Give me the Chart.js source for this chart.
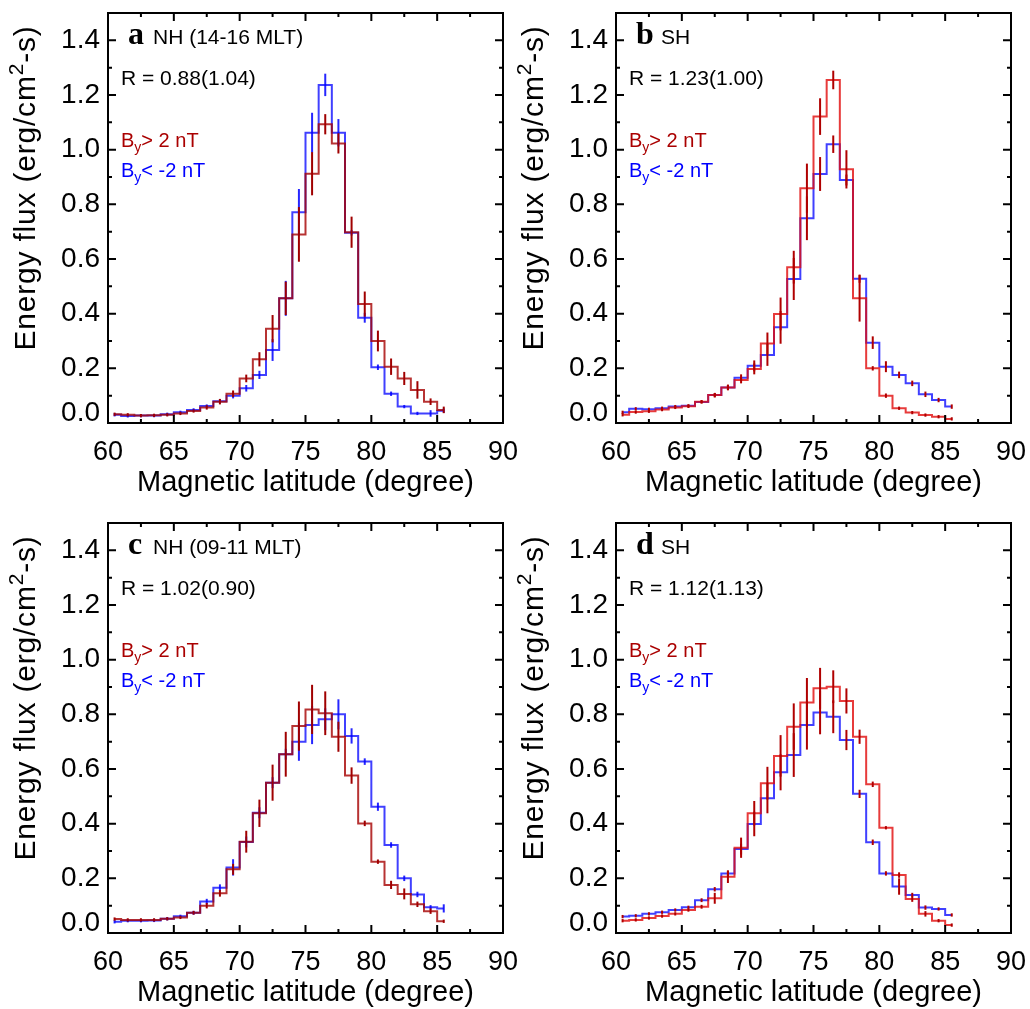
<!DOCTYPE html>
<html>
<head>
<meta charset="utf-8">
<script src="https://cdn.jsdelivr.net/npm/chart.js@4.4.1/dist/chart.umd.min.js"></script>
<style>
html, body { margin: 0; padding: 0; background: #fff; overflow: hidden; width: 1030px; height: 1009px; }
canvas { position: absolute; }
</style>
</head>
<body>
<canvas id="panelA" width="530" height="505" style="left:0;top:0"></canvas>
<canvas id="panelB" width="530" height="505" style="left:508px;top:0"></canvas>
<canvas id="panelC" width="530" height="505" style="left:0;top:510px"></canvas>
<canvas id="panelD" width="530" height="505" style="left:508px;top:510px"></canvas>
<script>
// bin centres (degrees magnetic latitude)
var lat = [60.5, 61.5, 62.5, 63.5, 64.5, 65.5, 66.5, 67.5, 68.5, 69.5, 70.5, 71.5, 72.5,
           73.5, 74.5, 75.5, 76.5, 77.5, 78.5, 79.5, 80.5, 81.5, 82.5, 83.5, 84.5, 85.5];

// a: NH 14-16 MLT
var fluxA_pos = [0.032, 0.03, 0.027, 0.028, 0.03, 0.035, 0.044, 0.057, 0.078, 0.107, 0.163, 0.233, 0.345,
                 0.456, 0.69, 0.912, 1.093, 1.023, 0.698, 0.435, 0.30, 0.206, 0.163, 0.121, 0.078, 0.048];
var errA_pos  = [0.005, 0.004, 0.004, 0.004, 0.004, 0.005, 0.006, 0.008, 0.01, 0.012, 0.014, 0.026, 0.05,
                 0.061, 0.1, 0.079, 0.037, 0.037, 0.057, 0.046, 0.038, 0.03, 0.024, 0.032, 0.012, 0.012];
var fluxA_neg = [0.03, 0.026, 0.027, 0.027, 0.032, 0.039, 0.048, 0.062, 0.08, 0.1, 0.127, 0.176, 0.267,
                 0.456, 0.771, 1.062, 1.237, 1.062, 0.696, 0.385, 0.204, 0.107, 0.06, 0.035, 0.035, 0.045];
var errA_neg  = [0.004, 0.004, 0.004, 0.004, 0.004, 0.005, 0.005, 0.006, 0.008, 0.01, 0.012, 0.015, 0.04,
                 0.064, 0.085, 0.073, 0.041, 0.05, 0.01, 0.018, 0.01, 0.008, 0.006, 0.005, 0.012, 0.008];

// b: SH
var fluxB_pos = [0.03, 0.04, 0.043, 0.049, 0.057, 0.061, 0.078, 0.102, 0.13, 0.157, 0.198, 0.291, 0.399,
                 0.57, 0.859, 1.121, 1.255, 0.928, 0.456, 0.2, 0.1, 0.054, 0.038, 0.029, 0.023, 0.015];
var errB_pos  = [0.004, 0.004, 0.004, 0.004, 0.005, 0.005, 0.006, 0.008, 0.01, 0.012, 0.02, 0.04, 0.06,
                 0.06, 0.09, 0.067, 0.034, 0.07, 0.085, 0.008, 0.008, 0.006, 0.005, 0.004, 0.004, 0.004];
var fluxB_neg = [0.039, 0.052, 0.05, 0.054, 0.06, 0.063, 0.077, 0.102, 0.13, 0.166, 0.209, 0.249, 0.35,
                 0.527, 0.749, 0.911, 1.02, 0.889, 0.528, 0.294, 0.206, 0.176, 0.145, 0.105, 0.084, 0.06];
var errB_neg  = [0.004, 0.004, 0.004, 0.004, 0.005, 0.005, 0.006, 0.008, 0.01, 0.012, 0.02, 0.04, 0.06,
                 0.077, 0.08, 0.062, 0.032, 0.02, 0.015, 0.023, 0.02, 0.012, 0.01, 0.01, 0.008, 0.008];

// c: NH 09-11 MLT
var fluxC_pos = [0.051, 0.048, 0.048, 0.048, 0.052, 0.057, 0.074, 0.1, 0.145, 0.233, 0.334, 0.438, 0.55,
                 0.654, 0.757, 0.818, 0.804, 0.718, 0.576, 0.401, 0.261, 0.176, 0.143, 0.105, 0.08, 0.043];
var errC_pos  = [0.004, 0.004, 0.004, 0.004, 0.005, 0.006, 0.007, 0.01, 0.012, 0.02, 0.04, 0.05, 0.066,
                 0.082, 0.09, 0.09, 0.08, 0.055, 0.03, 0.01, 0.008, 0.015, 0.02, 0.01, 0.01, 0.005];
var fluxC_neg = [0.041, 0.045, 0.045, 0.046, 0.052, 0.061, 0.074, 0.115, 0.166, 0.24, 0.333, 0.44, 0.55,
                 0.654, 0.7, 0.761, 0.782, 0.8, 0.721, 0.627, 0.462, 0.322, 0.2, 0.141, 0.094, 0.09];
var errC_neg  = [0.004, 0.004, 0.004, 0.004, 0.005, 0.006, 0.007, 0.01, 0.012, 0.03, 0.02, 0.02, 0.02,
                 0.02, 0.07, 0.07, 0.04, 0.055, 0.028, 0.012, 0.015, 0.01, 0.01, 0.01, 0.008, 0.015];

// d: SH
var fluxD_pos = [0.045, 0.048, 0.055, 0.062, 0.07, 0.084, 0.096, 0.127, 0.206, 0.312, 0.438, 0.548, 0.648,
                 0.755, 0.843, 0.895, 0.901, 0.849, 0.718, 0.544, 0.385, 0.212, 0.124, 0.07, 0.045, 0.029];
var errD_pos  = [0.004, 0.004, 0.004, 0.005, 0.005, 0.006, 0.007, 0.02, 0.023, 0.037, 0.045, 0.06, 0.076,
                 0.085, 0.09, 0.075, 0.06, 0.046, 0.026, 0.01, 0.006, 0.01, 0.01, 0.01, 0.005, 0.005];
var fluxD_neg = [0.06, 0.063, 0.07, 0.076, 0.084, 0.094, 0.12, 0.16, 0.218, 0.307, 0.399, 0.493, 0.588,
                 0.651, 0.761, 0.807, 0.791, 0.706, 0.509, 0.332, 0.218, 0.17, 0.139, 0.093, 0.088, 0.066];
var errD_neg  = [0.004, 0.004, 0.004, 0.005, 0.005, 0.006, 0.007, 0.008, 0.01, 0.02, 0.045, 0.055, 0.066,
                 0.08, 0.09, 0.08, 0.06, 0.037, 0.015, 0.01, 0.008, 0.03, 0.008, 0.008, 0.006, 0.005];

var panelLetters = ['a', 'b', 'c', 'd'];
var panelNames = ['NH (14-16 MLT)', 'SH', 'NH (09-11 MLT)', 'SH'];
var ratioLabels = ['R = 0.88(1.04)', 'R = 1.23(1.00)', 'R = 1.02(0.90)', 'R = 1.12(1.13)'];

var sans = '"Liberation Sans", Arial, Helvetica, sans-serif';
Chart.defaults.font.family = sans;
Chart.defaults.color = '#000';

function pts(vals) {
    return vals.map(function(v, i) { return {x: lat[i], y: v}; });
}

// vertical error bars at each bin centre
var errorBars = {
    id: 'errorBars',
    afterDatasetsDraw: function(chart) {
        var ctx = chart.ctx, xs = chart.scales.x, ys = chart.scales.y, a = chart.chartArea;
        ctx.save();
        ctx.beginPath();
        ctx.rect(a.left, a.top, a.right - a.left, a.bottom - a.top);
        ctx.clip();
        ctx.lineWidth = 2;
        for (var d = chart.data.datasets.length - 1; d >= 0; d--) {
            var ds = chart.data.datasets[d];
            ctx.strokeStyle = ds.barColor;
            ds.data.forEach(function(p, i) {
                var e = Math.max(ds.errors[i], 0.006);
                var px = xs.getPixelForValue(p.x);
                ctx.beginPath();
                ctx.moveTo(px, ys.getPixelForValue(p.y - e));
                ctx.lineTo(px, ys.getPixelForValue(p.y + e));
                ctx.stroke();
            });
        }
        ctx.restore();
    }
};

// box, inward ticks on all four sides, y labels, y title and the panel texts
var frame = {
    id: 'frame',
    afterDraw: function(chart) {
        var ctx = chart.ctx, xs = chart.scales.x, ys = chart.scales.y, a = chart.chartArea;
        var o = chart.options.plugins.frame;
        ctx.save();
        ctx.strokeStyle = '#000';
        ctx.lineWidth = 2;
        ctx.strokeRect(a.left, a.top, a.right - a.left, a.bottom - a.top);
        ctx.beginPath();
        for (var k = 0; k <= 12; k++) {
            var px = xs.getPixelForValue(60 + k * 2.5);
            var len = (k % 2 === 0) ? 8 : 4;
            ctx.moveTo(px, a.bottom); ctx.lineTo(px, a.bottom - len);
            ctx.moveTo(px, a.top); ctx.lineTo(px, a.top + len);
        }
        for (var j = 1; j < 15; j++) {
            var py = ys.getPixelForValue(j / 10);
            var l2 = (j % 2 === 0) ? 8 : 4;
            ctx.moveTo(a.left, py); ctx.lineTo(a.left + l2, py);
            ctx.moveTo(a.right, py); ctx.lineTo(a.right - l2, py);
        }
        ctx.stroke();

        // y tick labels (0.0 sits a little above the axis, as in the original)
        ctx.fillStyle = '#000';
        ctx.font = '28px ' + sans;
        ctx.textAlign = 'right';
        ctx.textBaseline = 'middle';
        ys.ticks.forEach(function(t) {
            var y = ys.getPixelForValue(t.value) - (t.value === 0 ? 10 : 0);
            ctx.fillText(t.value.toFixed(1), a.left - 8, y);
        });

        // y title with a real superscript
        ctx.save();
        ctx.translate(35, a.top + 175);
        ctx.rotate(-Math.PI / 2);
        ctx.textAlign = 'left';
        ctx.textBaseline = 'alphabetic';
        ctx.letterSpacing = '0.8px';
        var big = '30px ' + sans, small = '21px ' + sans;
        var p1 = 'Energy flux (erg/cm', p2 = '2', p3 = '-s)';
        ctx.font = big; var w1 = ctx.measureText(p1).width, w3 = ctx.measureText(p3).width;
        ctx.font = small; var w2 = ctx.measureText(p2).width;
        var x0 = -(w1 + w2 + w3) / 2;
        ctx.font = big; ctx.fillText(p1, x0, 0);
        ctx.font = small; ctx.fillText(p2, x0 + w1, -12);
        ctx.font = big; ctx.fillText(p3, x0 + w1 + w2, 0);
        ctx.restore();

        // panel texts
        ctx.textAlign = 'left';
        ctx.textBaseline = 'alphabetic';
        ctx.font = 'bold 32px "Liberation Serif", "Times New Roman", serif';
        ctx.fillText(o.letter, a.left + 20, a.top + 31);
        ctx.font = '21px ' + sans;
        ctx.fillText(o.name, a.left + 45, a.top + 31);
        ctx.fillText(o.ratio, a.left + 13, a.top + 72);
        drawBy(ctx, a.left + 13, a.top + 134, '> 2 nT', '#aa0000');
        drawBy(ctx, a.left + 13, a.top + 164, '< -2 nT', '#0000ff');
        ctx.restore();
    }
};

function drawBy(ctx, x, y, rest, color) {
    ctx.fillStyle = color;
    ctx.font = '20px ' + sans;
    ctx.fillText('B', x, y);
    var w = ctx.measureText('B').width;
    ctx.font = '14px ' + sans;
    ctx.fillText('y', x + w, y + 5);
    var w2 = ctx.measureText('y').width;
    ctx.font = '20px ' + sans;
    ctx.fillText(rest, x + w + w2, y);
}

function makePanel(id, idx, posVals, posErr, negVals, negErr, posLine, posBar, negBar) {
    return new Chart(document.getElementById(id), {
        type: 'line',
        plugins: [errorBars, frame],
        data: {
            datasets: [{
                label: 'By > 2 nT',
                data: pts(posVals),
                errors: posErr,
                barColor: posBar,
                stepped: 'middle',
                borderColor: posLine,
                borderWidth: 2,
                pointRadius: 0,
                fill: false
            }, {
                label: 'By < -2 nT',
                data: pts(negVals),
                errors: negErr,
                barColor: negBar,
                stepped: 'middle',
                borderColor: 'rgba(0, 0, 255, 0.75)',
                borderWidth: 2,
                pointRadius: 0,
                fill: false
            }]
        },
        options: {
            responsive: false,
            animation: false,
            layout: { padding: { left: 0, top: 13, right: 27, bottom: 0 } },
            plugins: {
                legend: { display: false },
                tooltip: { enabled: false },
                frame: {
                    letter: panelLetters[idx],
                    name: panelNames[idx],
                    ratio: ratioLabels[idx]
                }
            },
            scales: {
                x: {
                    type: 'linear',
                    min: 60,
                    max: 90,
                    grid: { display: false },
                    border: { display: false },
                    ticks: { stepSize: 5, font: { size: 27 }, padding: 5, maxRotation: 0, autoSkip: false },
                    title: {
                        display: true,
                        text: 'Magnetic latitude (degree)',
                        font: { size: 29 },
                        padding: { top: 0, bottom: 4.6 }
                    },
                    afterFit: function(s) { s.height = 82; }
                },
                y: {
                    min: 0,
                    max: 1.5,
                    grid: { display: false },
                    border: { display: false },
                    ticks: { stepSize: 0.2, includeBounds: false, display: false },
                    title: { display: false },
                    afterFit: function(s) { s.width = 108; }
                }
            }
        }
    });
}

makePanel('panelA', 0, fluxA_pos, errA_pos, fluxA_neg, errA_neg, 'rgba(165, 0, 0, 0.8)', '#a00000', 'rgba(0, 0, 255, 0.85)');
makePanel('panelB', 1, fluxB_pos, errB_pos, fluxB_neg, errB_neg, 'rgba(225, 10, 10, 0.8)', '#b00000', '#b00000');
makePanel('panelC', 2, fluxC_pos, errC_pos, fluxC_neg, errC_neg, 'rgba(165, 0, 0, 0.8)', '#a00000', 'rgba(0, 0, 255, 0.85)');
makePanel('panelD', 3, fluxD_pos, errD_pos, fluxD_neg, errD_neg, 'rgba(225, 10, 10, 0.8)', '#b00000', '#b00000');
</script>
</body>
</html>
